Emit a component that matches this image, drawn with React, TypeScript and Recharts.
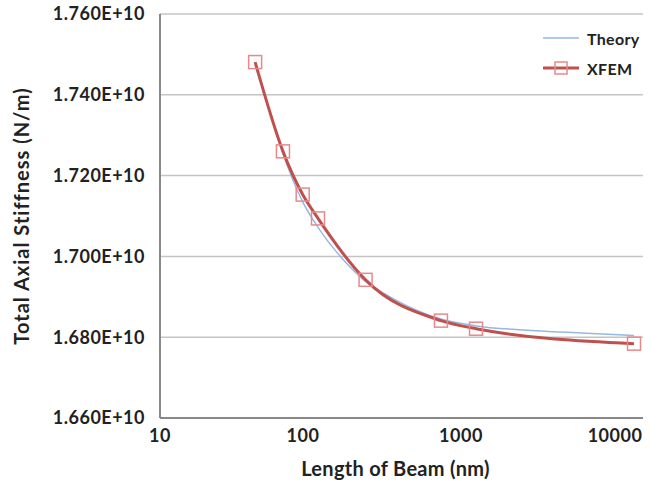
// Total axial stiffness vs beam length: theory curve against XFEM results (log x axis)

import {
  ComposedChart,
  Line,
  XAxis,
  YAxis,
  CartesianGrid,
} from 'recharts';

const beamLengths = [40, 60, 80, 100, 200, 600, 1000, 10000];
const xfemStiffness = [
  1.7481e10, 1.726e10, 1.7153e10, 1.7094e10, 1.6942e10, 1.6841e10, 1.6821e10, 1.6784e10,
];

const theoryLengths = [40, 50, 60, 80, 100, 150, 200, 300, 600, 1000, 2000, 5000, 10000];
const theoryStiffness = [
  1.7474e10, 1.7355e10, 1.7255e10, 1.7135e10, 1.7072e10, 1.6985e10, 1.6938e10, 1.6895e10,
  1.6845e10, 1.6828e10, 1.6818e10, 1.681e10, 1.6804e10,
];

const xTicks = [10, 100, 1000, 10000];
const yTicks = [1.66e10, 1.68e10, 1.7e10, 1.72e10, 1.74e10, 1.76e10];

const xfemData = beamLengths.map((len, i) => ({ len, xfem: xfemStiffness[i] }));
const theoryData = theoryLengths.map((len, i) => ({ len, theory: theoryStiffness[i] }));

const FONT = 'Lato, "Open Sans", sans-serif';
const RED = '#c0504d';
const MARKER = '#e58a8c';
const BLUE = '#95b8e0';

function SquareDot(props: any) {
  const { cx, cy, index } = props;
  if (cx == null || cy == null) return null;
  return (
    <rect
      key={`sq-${index}`}
      x={cx - 6.5}
      y={cy - 6.5}
      width={13}
      height={13}
      fill="none"
      stroke={MARKER}
      strokeWidth={1.5}
    />
  );
}

// the original's labels sit a little left of their ticks (except the first)
function XTick(props: any) {
  const { x, y, payload, index } = props;
  return (
    <text
      x={index > 0 ? x - 15 : x}
      y={y}
      dy="0.71em"
      textAnchor="middle"
      fill="#222"
      fontSize={18}
      fontWeight={700}
      letterSpacing={0.5}
      fontFamily={FONT}
    >
      {payload.value}
    </text>
  );
}

function ChartLegend() {
  const rowStyle = { display: 'flex', alignItems: 'center', height: 30 };
  const textStyle = { fontSize: 16, fontWeight: 700, color: '#222', marginLeft: 8, letterSpacing: 0.3 };
  return (
    <div style={{ position: 'absolute', left: 543, top: 23, fontFamily: FONT }}>
      <div style={rowStyle}>
        <svg width={36} height={14}>
          <line x1={0} y1={7} x2={36} y2={7} stroke={BLUE} strokeWidth={1.5} />
        </svg>
        <span style={textStyle}>Theory</span>
      </div>
      <div style={rowStyle}>
        <svg width={36} height={14}>
          <line x1={0} y1={7} x2={36} y2={7} stroke={RED} strokeWidth={3} />
          <rect x={12} y={1} width={12} height={12} fill="none" stroke={MARKER} strokeWidth={1.5} />
        </svg>
        <span style={textStyle}>XFEM</span>
      </div>
    </div>
  );
}

export default function App() {
  return (
    <div style={{ position: 'absolute', left: 0, top: 0, width: 650, height: 487, background: '#fff' }}>
      <ComposedChart
        width={650}
        height={487}
        margin={{ top: 14, right: 7, bottom: 0, left: 0 }}
      >
        <CartesianGrid vertical={false} stroke="#c4c4c4" strokeWidth={1.5} />
        <XAxis
          dataKey="len"
          type="number"
          scale="log"
          domain={[10, 11400]}
          ticks={xTicks}
          allowDataOverflow
          height={69}
          axisLine={{ stroke: '#888', strokeWidth: 2 }}
          tickLine={false}
          tickSize={0}
          tickMargin={11}
          tick={<XTick />}
          label={{
            value: 'Length of Beam (nm)',
            position: 'insideBottom',
            offset: 11,
            dx: -6,
            style: { fontSize: 20, fontWeight: 700, fill: '#222', fontFamily: FONT, letterSpacing: 0.3 },
          }}
        />
        <YAxis
          type="number"
          domain={[1.66e10, 1.76e10]}
          ticks={yTicks}
          width={160}
          axisLine={{ stroke: '#888', strokeWidth: 2 }}
          tickLine={false}
          tickSize={0}
          tickMargin={15}
          tick={{ fontSize: 18, fontWeight: 700, fill: '#222', fontFamily: FONT, letterSpacing: 0.5 }}
          tickFormatter={(v) => `${(v / 1e10).toFixed(3)}E+10`}
          label={{
            value: 'Total Axial Stiffness (N/m)',
            angle: -90,
            position: 'insideLeft',
            offset: 22,
            style: {
              fontSize: 20,
              fontWeight: 700,
              fill: '#222',
              fontFamily: FONT,
              letterSpacing: 1,
              textAnchor: 'middle',
            },
          }}
        />
        <Line
          data={theoryData}
          dataKey="theory"
          name="Theory"
          type="monotone"
          stroke={BLUE}
          strokeWidth={1.5}
          dot={false}
          isAnimationActive={false}
        />
        <Line
          data={xfemData}
          dataKey="xfem"
          name="XFEM"
          type="monotone"
          stroke={RED}
          strokeWidth={3}
          dot={<SquareDot />}
          activeDot={false}
          isAnimationActive={false}
        />
      </ComposedChart>
      <ChartLegend />
    </div>
  );
}
